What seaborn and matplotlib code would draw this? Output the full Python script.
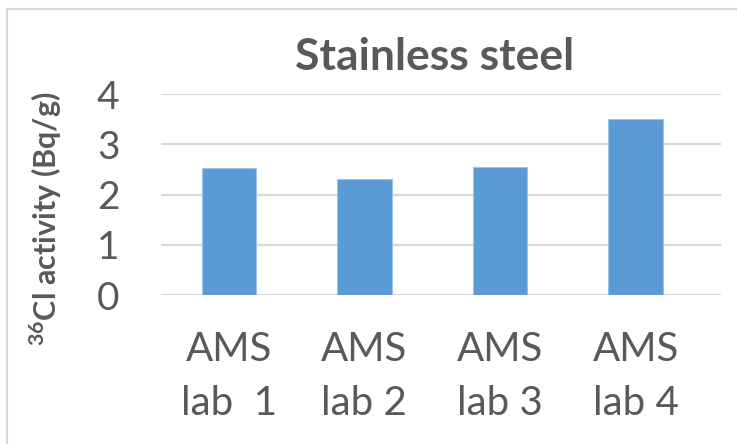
import matplotlib
matplotlib.use("Agg")
import matplotlib.pyplot as plt
import seaborn as sns
import pandas as pd
from matplotlib.patches import Rectangle

labs = ["AMS\nlab  1", "AMS\nlab 2", "AMS\nlab 3", "AMS\nlab 4"]
activity = [2.52, 2.31, 2.55, 3.50]
y_ticks = [0, 1, 2, 3, 4]

sns.set_style("white")
plt.rcParams["font.family"] = ["Lato", "DejaVu Sans"]
plt.rcParams["mathtext.fontset"] = "custom"
plt.rcParams["mathtext.rm"] = "Lato"
plt.rcParams["mathtext.bf"] = "Lato:bold"

grey = "#595959"
df = pd.DataFrame({"lab": labs, "activity": activity})

fig = plt.figure(figsize=(7.37, 4.44), dpi=100)
ax = fig.add_axes([161 / 737, 1 - 295 / 444, 560 / 737, 201 / 444])

sns.barplot(data=df, x="lab", y="activity", color="#5b9bd5", width=0.4,
            saturation=1, edgecolor="#9dc3e6", linewidth=0.8, ax=ax, zorder=3)

ax.set_xlim(-0.5, 3.63)
ax.set_ylim(0, 4)
ax.set_yticks(y_ticks)
ax.yaxis.grid(True, color="#d9d9d9", linewidth=1.5, zorder=0)
ax.set_axisbelow(True)
for s in ax.spines.values():
    s.set_visible(False)
ax.tick_params(axis="y", length=0, pad=30, labelsize=28, labelcolor=grey)
ax.tick_params(axis="x", length=0, pad=26, labelsize=29, labelcolor=grey)
for t in ax.get_xticklabels():
    t.set_linespacing(1.55)
ax.set_xlabel("")
ax.set_ylabel("")

fig.text(46 / 737, 1 - 219 / 444, r"$^{\mathbf{36}}$Cl activity (Bq/g)", rotation=90,
         ha="center", va="center", fontsize=22, fontweight="bold", color=grey)
fig.text(435 / 737, 1 - 57 / 444, "Stainless steel", ha="center", va="center",
         fontsize=32, fontweight="bold", color=grey)

fig.patches.append(Rectangle((7 / 737, -0.1), 1.2, 1 - 9 / 444 + 0.1,
                             transform=fig.transFigure, fill=False,
                             edgecolor="#d9d9d9", linewidth=1.5))

fig.savefig("out.png", dpi=100)
